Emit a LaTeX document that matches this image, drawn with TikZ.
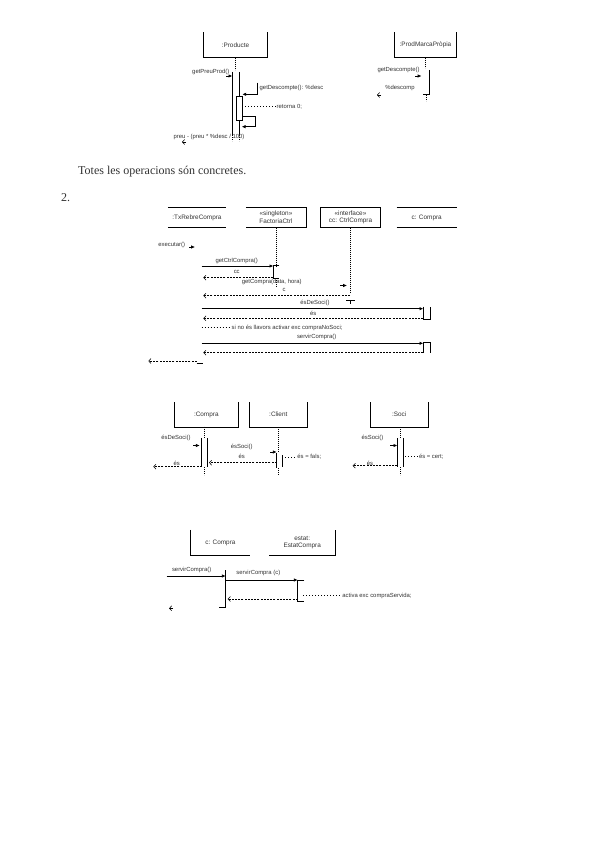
\documentclass[tikz,border=0pt]{standalone}
\usepackage{fontspec}
\setmainfont{Liberation Serif}
\setsansfont{Liberation Sans}
\usetikzlibrary{arrows.meta, positioning}

\begin{document}
\begin{tikzpicture}[x=1pt, y=-1pt, every node/.style={text=black!80},
    lbl/.style={font=\sffamily\fontsize{5.9}{6.8}\selectfont, inner sep=0.5pt},
    objbox/.style={font=\sffamily\fontsize{6.4}{7.6}\selectfont, align=center, inner sep=0pt, minimum height=25pt},
    call/.style={-{Latex[length=3.8pt, width=3.4pt]}, line width=0.7pt},
    back/.style={dash pattern=on 2pt off 1.2pt, -{Straight Barb[length=2.3pt, width=4.8pt]}, line width=0.55pt},
    life/.style={dash pattern=on 0.8pt off 1.2pt, line width=0.65pt},
    bar/.style={line width=0.7pt},
    note/.style={dash pattern=on 0.8pt off 2.2pt, line width=0.65pt}]
\useasboundingbox (0,0) rectangle (600,848);

% --- diagrama 1
\node[objbox, minimum width=63pt] (producte) at (235.5,45) {:Producte};
\node[objbox, minimum width=61pt] (marca) at (425.5,45) {:ProdMarcaPròpia};
\draw[bar] (producte.north west) -- (producte.south west) -- (producte.south east) -- (producte.north east);
\draw[bar] (marca.north west) -- (marca.south west) -- (marca.south east) -- (marca.north east);

\draw[life] (producte.south) -- ++(0,12);
\draw[bar] (232.3,72) -- (232.3,135);
\draw[bar] (239,72) -- (239,135);
\draw[life] (232.3,135) -- ++(0,6);
\draw[life] (239,135) -- ++(0,6);
\draw[bar, fill=white] (236,96) rectangle (242.3,120);

\node[lbl, anchor=east] (getpreu) at (230,72) {getPreuProd()};
\coordinate (gp0) at (226,76);
\coordinate (gp1) at (232.3,76);
\draw[call] (gp0) -- (gp1);

\node[lbl, anchor=west] (getdesc) at (259,88) {getDescompte(): \%desc};
\coordinate (gd0) at (257.7,82.7);
\coordinate (gd1) at (242.3,94.3);
\draw[call] (gd0) |- (gd1);

\coordinate (rt0) at (242.3,106.7);
\node[lbl, anchor=west] (retorna) at (276,106.7) {retorna 0;};
\draw[note] (rt0) -- (retorna.west);

\coordinate (lp0) at (242.3,116);
\coordinate (lp1) at (255.3,126.7);
\coordinate (lp2) at (241.7,126.7);
\draw[call] (lp0) -| (lp1) -- (lp2);

\node[lbl] (preu) at (209,137) {preu - (preu * \%desc / 100)};
\coordinate (pr0) at (186,142);
\coordinate (pr1) at (182,142);
\draw[back] (pr0) -- (pr1);

\draw[life] (marca.south) ++(0.2,0) -- ++(0,10);
\draw[bar] (429,70) -- (429,94.3) -- (423.3,94.3);
\draw[life] (426.7,95) -- ++(0,6);
\node[lbl] (getdesc2) at (398.5,70) {getDescompte()};
\coordinate (gm0) at (415,76);
\coordinate (gm1) at (421.5,76);
\draw[call] (gm0) -- (gm1);
\node[lbl] (percent) at (400,88.3) {\%descomp};
\coordinate (pm0) at (381,95);
\coordinate (pm1) at (377,95);
\draw[back] (pm0) -- (pm1);

\node[anchor=west, font=\fontsize{12}{14}\selectfont, inner sep=0pt] (totes) at (78,172) {Totes les operacions són concretes.};
\node[anchor=west, font=\fontsize{12}{14}\selectfont, inner sep=0pt] (dos) at (61,198) {2.};

% --- diagrama 2
\node[objbox, minimum width=58pt, minimum height=19.6pt] (txrebre) at (197,217.5) {:TxRebreCompra};
\node[objbox, minimum width=60pt, minimum height=19.6pt] (factoria) at (276,217.5) {«singleton»\\FactoriaCtrl};
\node[objbox, minimum width=60pt, minimum height=19.6pt] (ctrlcompra) at (350.5,217.5) {«interface»\\cc: CtrlCompra};
\node[objbox, minimum width=60pt, minimum height=19.6pt] (compra2) at (426.7,217.5) {c: Compra};
\draw[bar] (txrebre.north west) -- (txrebre.north east) (txrebre.south west) -- (txrebre.south east);
\draw[bar] (factoria.north west) -- (factoria.north east) -- (factoria.south east) -- (factoria.south west);
\draw[bar] (ctrlcompra.north west) rectangle (ctrlcompra.south east);
\draw[bar] (compra2.north west) -- (compra2.north east) (compra2.south west) -- (compra2.south east);

\draw[life] (factoria.south) -- (276,265.7);
\draw[bar] (279.3,265.7) -- (273.3,265.7) -- (273.3,278.3) -- (279.3,278.3);
\draw[life] (276,280) -- (276,287);
\draw[life] (ctrlcompra.south) -- (350.5,293);

\node[lbl] (executar) at (171.7,245) {executar()};
\coordinate (ex0) at (189,247);
\coordinate (ex1) at (195,247);
\draw[call] (ex0) -- (ex1);

\node[lbl] (getctrl) at (236.7,260.5) {getCtrlCompra()};
\coordinate (gc0) at (201.7,266);
\coordinate (gc1) at (273.3,266);
\draw[call] (gc0) -- (gc1);
\node[lbl] (cc) at (236.7,272.3) {cc};
\coordinate (cc0) at (273.3,277.7);
\coordinate (cc1) at (203.3,277.7);
\draw[back] (cc0) -- (cc1);

\node[lbl] (getcompra) at (271.7,281.5) {getCompra(data, hora)};
\coordinate (gk0) at (340,285.5);
\coordinate (gk1) at (347,285.5);
\draw[call] (gk0) -- (gk1);
\node[lbl] (cnom) at (284,290) {c};
\coordinate (cr0) at (350,295.7);
\coordinate (cr1) at (203.3,295.7);
\draw[back] (cr0) -- (cr1);
\draw[bar] (346,300.3) -- (355,300.3) (350.5,300.3) -- (350.5,303.5);

\node[lbl] (esdesoci) at (315,302.5) {ésDeSoci()};
\coordinate (ed0) at (201.7,308.7);
\coordinate (ed1) at (423.3,308.7);
\draw[call] (ed0) -- (ed1);
\draw[bar] (423.3,306.5) -- (423.3,319.3) -- (430,319.3) -- (430,306.5);
\node[lbl] (es1) at (313.3,313) {és};
\coordinate (er0) at (423.3,318.3);
\coordinate (er1) at (203.3,318.3);
\draw[back] (er0) -- (er1);

\coordinate (sn0) at (201.7,327.7);
\node[lbl, anchor=west] (sino) at (231,327.7) {si no és llavors activar exc compraNoSoci;};
\draw[note] (sn0) -- (sino.west);

\node[lbl] (servir) at (316.7,337.3) {servirCompra()};
\coordinate (sv0) at (201.7,343.3);
\coordinate (sv1) at (423.3,343.3);
\draw[call] (sv0) -- (sv1);
\draw[bar] (423.3,352.7) -- (423.3,342.3) -- (430,342.3) -- (430,352.7);
\coordinate (sr0) at (423.3,352.7);
\coordinate (sr1) at (203.3,352.7);
\draw[back] (sr0) -- (sr1);
\coordinate (fi0) at (196.7,361);
\coordinate (fi1) at (148.3,361);
\draw[back] (fi0) -- (fi1);
\draw[bar] (196.7,363.3) -- (203.3,363.3);

% --- diagrama 3
\node[objbox, minimum width=64pt, minimum height=24.4pt] (compra3) at (206.3,414.5) {:Compra};
\node[objbox, minimum width=58pt, minimum height=24.4pt] (client) at (278.3,414.5) {:Client};
\node[objbox, minimum width=58.3pt, minimum height=24.4pt] (soci) at (399.2,414.5) {:Soci};
\foreach \obj in {compra3, client, soci}
  \draw[bar] (\obj.north west) -- (\obj.south west) -- (\obj.south east) -- (\obj.north east);

\draw[life] (204.3,426.7) -- (204.3,438);
\draw[bar] (201.7,438.3) -- (201.7,466.7);
\draw[bar] (207.7,438.3) -- (207.7,466.7);
\draw[life] (204.3,467) -- (204.3,475);
\node[lbl] (esdesoci2) at (176,438.3) {ésDeSoci()};
\coordinate (ds0) at (193,445.5);
\coordinate (ds1) at (199.7,445.5);
\draw[call] (ds0) -- (ds1);
\node[lbl] (es2) at (176.7,463) {és};
\coordinate (dr0) at (201.7,466.7);
\coordinate (dr1) at (153.3,466.7);
\draw[back] (dr0) -- (dr1);

\draw[life] (client.south) -- (278.3,452);
\draw[bar] (276.7,453) -- (276.7,468);
\draw[bar] (282.7,455) -- (282.7,466.7);
\draw[life] (278.3,468) -- (278.3,475);
\node[lbl] (essoci1) at (241.7,446.7) {ésSoci()};
\coordinate (cs0) at (270,452);
\coordinate (cs1) at (276.7,452);
\draw[call] (cs0) -- (cs1);
\node[lbl] (es3) at (241.7,456) {és};
\coordinate (cl0) at (276.7,462.7);
\coordinate (cl1) at (209,462.7);
\draw[back] (cl0) -- (cl1);
\coordinate (fa0) at (285,457);
\node[lbl, anchor=west] (fals) at (296.7,457) {és = fals;};
\draw[note] (fa0) -- (fals.west);

\draw[life] (soci.south) ++(0.8,0) -- (400,438.3);
\draw[bar] (397.3,438.3) -- (397.3,466.7);
\draw[bar] (403.3,438.3) -- (403.3,466.7);
\draw[life] (400,467) -- (400,475);
\node[lbl] (essoci2) at (372.5,438.3) {ésSoci()};
\coordinate (ss0) at (390,445.5);
\coordinate (ss1) at (397.3,445.5);
\draw[call] (ss0) -- (ss1);
\node[lbl] (es4) at (370,463) {és};
\coordinate (sl0) at (397.3,465.7);
\coordinate (sl1) at (352.7,465.7);
\draw[back] (sl0) -- (sl1);
\coordinate (ce0) at (405,456.7);
\node[lbl, anchor=west] (cert) at (418.3,456.7) {és = cert;};
\draw[note] (ce0) -- (cert.west);

% --- diagrama 4
\node[objbox, minimum width=59.4pt] (compra4) at (220.4,542.5) {c: Compra};
\node[objbox, minimum width=65.7pt] (estat) at (302.2,542.5) {estat:\\EstatCompra};
\draw[bar] (compra4.north west) -- (compra4.south west) -- (compra4.south east);
\draw[bar] (estat.south west) -- (estat.south east) -- (estat.north east);

\node[lbl] (servir2) at (191.7,569.5) {servirCompra()};
\coordinate (sc0) at (166.7,576);
\coordinate (sc1) at (225.7,576);
\draw[call] (sc0) -- (sc1);
\draw[bar] (225.7,570) -- (225.7,607.7) -- (219.3,607.7);
\node[lbl] (servirc) at (258.3,573.3) {servirCompra (c)};
\coordinate (st0) at (225.7,580);
\coordinate (st1) at (297.7,580);
\draw[call] (st0) -- (st1);
\draw[bar] (304.3,580) -- (297.7,580) -- (297.7,601) -- (304.3,601);
\coordinate (sb0) at (297.7,599);
\coordinate (sb1) at (227.7,599);
\draw[back] (sb0) -- (sb1);
\coordinate (ac0) at (303.3,595.5);
\node[lbl, anchor=west] (activa) at (341.7,595.5) {activa exc compraServida;};
\draw[note] (ac0) -- (activa.west);
\coordinate (lt0) at (173,608.3);
\coordinate (lt1) at (169,608.3);
\draw[back] (lt0) -- (lt1);
\end{tikzpicture}
\end{document}
